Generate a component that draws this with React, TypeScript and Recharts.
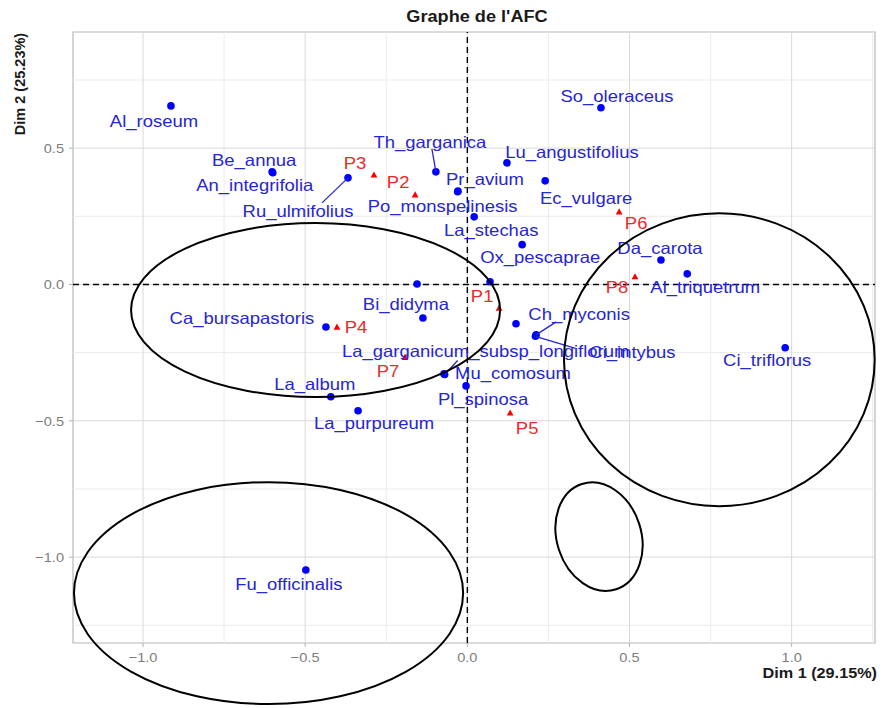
import React from 'react'
import { ScatterChart, Scatter, XAxis, YAxis, ReferenceLine, ReferenceArea } from 'recharts'

// species (blue points)
const speciesNames = [
  'Al_roseum', 'Be_annua', 'An_integrifolia', 'Ru_ulmifolius', 'Th_garganica', 'Pr_avium',
  'Po_monspelinesis', 'La_stechas', 'Lu_angustifolius', 'Ec_vulgare', 'So_oleraceus', 'Ox_pescaprae',
  'Da_carota', 'Al_triquetrum', '', '', 'Bi_didyma', 'Ca_bursapastoris', 'La_album', 'La_purpureum',
  '', 'Ch_myconis', 'Ci_intybus', 'Mu_comosum', 'La_garganicum_subsp_longiflorum', 'Pl_spinosa',
  'Ci_triflorus', 'Fu_officinalis',
]
const speciesDim1 = [
  -0.914, -0.602, -0.6, -0.368, -0.097, -0.029,
  -0.03, 0.021, 0.122, 0.24, 0.412, 0.169,
  0.597, 0.678, -0.155, 0.07, -0.137, -0.436, -0.421, -0.337,
  0.15, 0.212, 0.21, -0.072, -0.07, -0.004,
  0.98, -0.498,
]
const speciesDim2 = [
  0.655, 0.413, 0.41, 0.391, 0.413, 0.343,
  0.34, 0.248, 0.446, 0.38, 0.648, 0.146,
  0.09, 0.039, 0.002, 0.01, -0.123, -0.156, -0.412, -0.463,
  -0.144, -0.185, -0.19, -0.328, -0.33, -0.372,
  -0.232, -1.047,
]

// sites (red triangles)
const siteNames = ['P1', 'P2', 'P3', 'P4', 'P5', 'P6', 'P7', 'P8']
const siteDim1 = [0.098, -0.161, -0.288, -0.402, 0.132, 0.468, -0.192, 0.517]
const siteDim2 = [-0.086, 0.329, 0.402, -0.156, -0.471, 0.267, -0.266, 0.029]

// groups circled by hand on the figure
const groupDim1 = [-0.468, 0.777, 0.406, -0.613]
const groupDim2 = [-0.094, -0.276, -0.925, -1.132]
const groupHalfDim1 = [0.569, 0.479, 0.13, 0.6]
const groupHalfDim2 = [0.319, 0.537, 0.203, 0.407]
const groupTilt = [0, 0, -18, 0]

const xTicks = [-1, -0.5, 0, 0.5, 1]
const yTicks = [-1, -0.5, 0, 0.5]
const xMinor = [-0.75, -0.25, 0.25, 0.75, 1.25]
const yMinor = [-1.25, -0.75, -0.25, 0.25, 0.75]
const xDomain = [-1.216, 1.257]
const yDomain = [-1.315, 0.926]

const W = 883
const H = 708
const margin = { top: 32, right: 8, bottom: 35, left: 13 }
const yAxisW = 60
const xAxisH = 30
const plotW = W - margin.left - margin.right - yAxisW
const plotH = H - margin.top - margin.bottom - xAxisH
const pxX = plotW / (xDomain[1] - xDomain[0])
const pxY = plotH / (yDomain[1] - yDomain[0])

const FONT = 'Liberation Sans, Arial, sans-serif'
const BLUE = '#0000ff'
const BLUE_TXT = '#2626d2'
const RED = '#ff0000'
const RED_TXT = '#ec2a2a'

// label offset from its point, and optional segment end
const labelLayout: Record<string, number[]> = {
  Al_roseum: [-17, 15],
  Be_annua: [-18, -12],
  An_integrifolia: [-18, 13],
  Ru_ulmifolius: [-50, 33, -26, 25],
  Th_garganica: [-6, -30, -4, -23],
  Pr_avium: [27, -12],
  Po_monspelinesis: [-15, 15],
  La_stechas: [17, 13],
  Lu_angustifolius: [65, -11],
  Ec_vulgare: [41, 17],
  So_oleraceus: [16, -11],
  Ox_pescaprae: [18, 13],
  Da_carota: [-1, -12],
  Al_triquetrum: [18, 14],
  Bi_didyma: [-17, -14],
  Ca_bursapastoris: [-84, -9],
  La_album: [-16, -12],
  La_purpureum: [16, 13],
  Ch_myconis: [43, -21, 20, -13],
  Ci_intybus: [97, 16, 40, 12],
  Mu_comosum: [69, -1],
  La_garganicum_subsp_longiflorum: [41, -23, 13, -14],
  Pl_spinosa: [17, 13],
  Ci_triflorus: [-18, 13],
  Fu_officinalis: [-17, 14],
  P1: [-17, -12],
  P2: [-17, -12],
  P3: [-19, -12],
  P4: [19, 0],
  P5: [17, 15],
  P6: [17, 12],
  P7: [-17, 14],
  P8: [-18, 11],
}

const species = speciesNames.map((name, i) => ({ name, x: speciesDim1[i], y: speciesDim2[i] }))
const sites = siteNames.map((name, i) => ({ name, x: siteDim1[i], y: siteDim2[i] }))
const groups = groupDim1.map((x, i) => ({
  x, y: groupDim2[i], rx: groupHalfDim1[i], ry: groupHalfDim2[i], tilt: groupTilt[i],
}))

const fmt = (v: number) => (v < 0 ? '\u2212' : '') + Math.abs(v).toFixed(1)

const XTick = (p: any) => (
  <text transform={`translate(${p.x},${p.y + 11}) scale(1.08,1)`} textAnchor="middle"
    fontSize={13.5} fill="#7d7d7d" fontFamily={FONT}>{fmt(p.payload.value)}</text>
)
const YTick = (p: any) => (
  <text transform={`translate(${p.x},${p.y + 5}) scale(1.08,1)`} textAnchor="end"
    fontSize={13.5} fill="#7d7d7d" fontFamily={FONT}>{fmt(p.payload.value)}</text>
)

const Dot = (p: any) => <circle cx={p.cx} cy={p.cy} r={3.8} fill={BLUE} />
const Tri = (p: any) => {
  const s = 3.4
  return <path d={`M${p.cx},${p.cy - s}L${p.cx + s},${p.cy + s * 0.8}L${p.cx - s},${p.cy + s * 0.8}Z`} fill={RED} />
}

const makeLabel = (color: string) => (p: any) => {
  const name = p.payload.name
  const lay = labelLayout[name]
  if (!name || !lay) return <g />
  const [dx, dy, lx, ly] = lay
  return (
    <g>
      {lx !== undefined && (
        <line x1={p.cx} y1={p.cy} x2={p.cx + lx} y2={p.cy + ly} stroke={color} strokeWidth={1.3} />
      )}
      <text transform={`translate(${p.cx + dx},${p.cy + dy}) scale(1.12,1)`} textAnchor="middle"
        dominantBaseline="central" fontSize={16.5} fill={color} fontFamily={FONT}>{name}</text>
    </g>
  )
}

const Ring = (p: any) => {
  const g = p.payload
  return (
    <ellipse cx={p.cx} cy={p.cy} rx={g.rx * pxX} ry={g.ry * pxY}
      transform={`rotate(${g.tilt} ${p.cx} ${p.cy})`} fill="none" stroke="#000" strokeWidth={2} />
  )
}

export default function App() {
  return (
    <div style={{ position: 'absolute', left: 0, top: 0, width: W, height: H, background: '#fff' }}>
      <ScatterChart width={W} height={H} margin={margin}>
        <XAxis type="number" dataKey="x" domain={xDomain} ticks={xTicks} height={xAxisH}
          axisLine={false} tickLine={{ stroke: '#b0b0b0' }} tickSize={4} tickMargin={4} tick={<XTick />} />
        <YAxis type="number" dataKey="y" domain={yDomain} ticks={yTicks} width={yAxisW}
          axisLine={false} tickLine={{ stroke: '#b0b0b0' }} tickSize={4} tickMargin={5} tick={<YTick />} />
        {xMinor.map(v => <ReferenceLine key={'xm' + v} x={v} stroke="#ebebeb" strokeWidth={1} />)}
        {yMinor.map(v => <ReferenceLine key={'ym' + v} y={v} stroke="#ebebeb" strokeWidth={1} />)}
        {xTicks.map(v => <ReferenceLine key={'x' + v} x={v} stroke="#d9d9d9" strokeWidth={1} />)}
        {yTicks.map(v => <ReferenceLine key={'y' + v} y={v} stroke="#d9d9d9" strokeWidth={1} />)}
        <ReferenceArea x1={xDomain[0]} x2={xDomain[1]} y1={yDomain[0]} y2={yDomain[1]}
          fill="none" stroke="#b8b8b8" strokeWidth={1.2} />
        <ReferenceLine x={0} stroke="#000" strokeDasharray="6 4" strokeWidth={1.4} />
        <ReferenceLine y={0} stroke="#000" strokeDasharray="6 4" strokeWidth={1.4} />
        <Scatter data={species} shape={Dot} isAnimationActive={false} />
        <Scatter data={sites} shape={Tri} isAnimationActive={false} />
        <Scatter data={species} shape={makeLabel(BLUE_TXT)} isAnimationActive={false} />
        <Scatter data={sites} shape={makeLabel(RED_TXT)} isAnimationActive={false} />
        <Scatter data={groups} shape={Ring} isAnimationActive={false} />
      </ScatterChart>
      <svg width={W} height={H} style={{ position: 'absolute', left: 0, top: 0, pointerEvents: 'none' }}>
        <text transform="translate(477,22) scale(1.1,1)" textAnchor="middle" fontSize={16.5}
          fontWeight="bold" fontFamily={FONT} fill="#1a1a1a">Graphe de l'AFC</text>
        <text transform="translate(877,678) scale(1.12,1)" textAnchor="end" fontSize={14.5}
          fontWeight="bold" fontFamily={FONT} fill="#1a1a1a">Dim 1 (29.15%)</text>
        <text transform="translate(25,84) rotate(-90)" textAnchor="middle" fontSize={14.5}
          fontWeight="bold" fontFamily={FONT} fill="#1a1a1a">Dim 2 (25.23%)</text>
      </svg>
    </div>
  )
}
